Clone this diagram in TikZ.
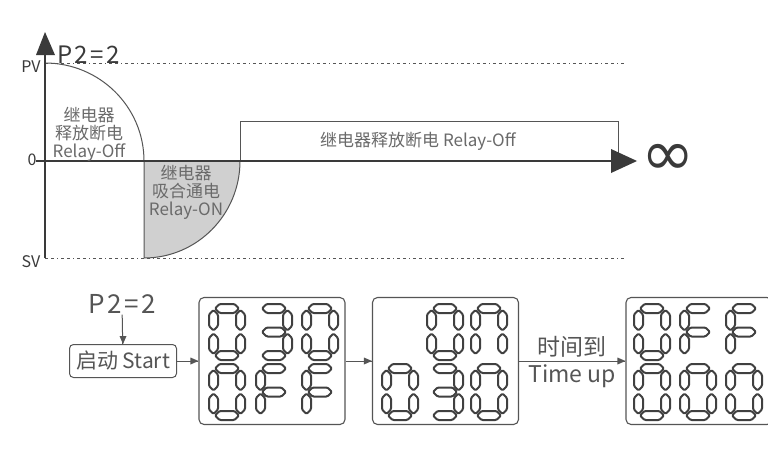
\documentclass[tikz,border=0pt]{standalone}
\usepackage{fontspec}
\setmainfont{Noto Sans CJK SC}
\newfontfamily\widefont[LetterSpace=10]{Noto Sans CJK SC}
\newfontfamily\symbfont{DejaVu Sans}
\definecolor{axisgray}{HTML}{3A3A3A}
\definecolor{textgray}{HTML}{6A6A6A}
\definecolor{linegray}{HTML}{555555}
\definecolor{fillgray}{HTML}{D0D0D0}
\definecolor{lcdgray}{HTML}{404040}
% one segment of a seven segment digit, horizontal and vertical
\newcommand{\hseg}[2]{\draw[lcdseg] (#1,#2) -- ++(4.5,-4.5) -- ++(15,0) -- ++(4.5,4.5) -- ++(-4.5,4.5) -- ++(-15,0) -- cycle;}
\newcommand{\vseg}[2]{\draw[lcdseg] (#1,#2) -- ++(4.5,4.5) -- ++(0,11.5) -- ++(-4.5,4.5) -- ++(-4.5,-4.5) -- ++(0,-11.5) -- cycle;}
\newcommand{\dsega}{\hseg{6}{4.5}}
\newcommand{\dsegb}{\vseg{31.5}{6}}
\newcommand{\dsegc}{\vseg{31.5}{29.5}}
\newcommand{\dsegd}{\hseg{6}{51.5}}
\newcommand{\dsege}{\vseg{4.5}{29.5}}
\newcommand{\dsegf}{\vseg{4.5}{6}}
\newcommand{\dsegg}{\hseg{6}{28}}
\newcommand{\lcddigit}[3]{\begin{scope}[shift={(#1,#2)}]\foreach \s in {#3}{\csname dseg\s\endcsname}\end{scope}}
\begin{document}
\begin{tikzpicture}[x=1pt,y=-1pt]
        \tikzset{lcdseg/.style={draw=lcdgray,line width=2pt,fill=white,line join=round,rounded corners=1.2pt},
          dispbox/.style={draw=linegray,line width=1.1pt,rounded corners=5pt,minimum width=146pt,minimum height=127pt,inner sep=0pt},
          graphtext/.style={text=textgray,font=\fontsize{17}{18}\selectfont,align=center,inner sep=0pt},
          axislabel/.style={text=axisgray,font=\fontsize{16}{16}\selectfont,inner sep=0pt},
          flowtext/.style={text=linegray,font=\fontsize{21}{22}\selectfont},
          guide/.style={draw=linegray,line width=0.8pt,dash pattern=on 3pt off 3pt on 3pt off 3pt on 1pt off 3pt}}
        \useasboundingbox [fill=white] (0,0) rectangle (768,466);
        % graph
        \coordinate (ytop) at (45,50);
        \coordinate (ybot) at (45,258);
        \coordinate (xleft) at (36,161);
        \coordinate (xend) at (612,161);
        \draw [guide] (45,63) -- (627,63);
        \draw [guide] (45,258) -- (627,258);
        \draw [fill=fillgray,draw=linegray,line width=1pt] (144,161) -- (144,258) arc[start angle=90,end angle=0,x radius=96,y radius=97] -- cycle;
        \draw [linegray,line width=1pt] (45,63) arc[start angle=-90,end angle=0,x radius=99,y radius=98];
        \draw [linegray,line width=1pt] (240,161) -- (240,121) -- (618,121) -- (618,161);
        \draw [axisgray,line width=2.2pt] (ybot) -- (ytop);
        \fill [axisgray] (45,32) -- (36,55) -- (55,55) -- cycle;
        \draw [axisgray,line width=2.2pt] (xleft) -- (xend);
        \fill [axisgray] (637,161) -- (611,149) -- (611,173) -- cycle;
        \node [axislabel] (pv) at (31,67) {PV};
        \node [axislabel] (zero) at (32,160) {0};
        \node [axislabel] (sv) at (31,262) {SV};
        \node [text=axisgray,font=\widefont\fontsize{24}{24}\selectfont,anchor=west,inner sep=0pt] (ptop) at (57,55) {P2=2};
        \node [text=axisgray,font=\symbfont\fontsize{64}{64}\selectfont,inner sep=0pt] (inf) at (668,160) {∞};
        \node [graphtext] (offleft) at (89,134) {继电器\\释放断电\\Relay-Off};
        \node [graphtext] (onlabel) at (186,192) {继电器\\吸合通电\\Relay-ON};
        \node [graphtext] (offright) at (418,141) {继电器释放断电 Relay-Off};
        % flow
        \node [flowtext,font=\widefont\fontsize{26}{26}\selectfont,inner sep=1pt] (ptwo) at (122,304) {P2=2};
        \node [flowtext,draw=linegray,line width=1pt,rounded corners=4pt,minimum width=107pt,minimum height=33pt,inner sep=0pt] (start) at (123,361) {启动 Start};
        \node [dispbox] (disp1) at (272,361) {};
        \node [dispbox] (disp2) at (445.5,361) {};
        \node [dispbox] (disp3) at (699,361) {};
        \draw [linegray,line width=1pt] (ptwo) -- (start);
        \fill [linegray] (start.north) -- ++(-3.5,-8) -- ++(7,0) -- cycle;
        \draw [linegray,line width=1pt] (start) -- (disp1);
        \fill [linegray] (disp1.west) -- ++(-8,-3.5) -- ++(0,7) -- cycle;
        \draw [linegray,line width=1pt] (disp1) -- (disp2);
        \fill [linegray] (disp2.west) -- ++(-8,-3.5) -- ++(0,7) -- cycle;
        \draw [linegray,line width=1pt] (disp2) -- node [flowtext,font=\fontsize{23}{23}\selectfont,above] {时间到} node [flowtext,font=\fontsize{23}{23}\selectfont,below] {Time up} (disp3);
        \fill [linegray] (disp3.west) -- ++(-8,-3.5) -- ++(0,7) -- cycle;
        % digits
        \lcddigit{209}{304}{a,b,c,d,e,f}
        \lcddigit{256}{304}{a,b,c,d,g}
        \lcddigit{302}{304}{a,b,c,d,e,f}
        \lcddigit{209}{364}{a,b,c,d,e,f}
        \lcddigit{256}{364}{a,e,f,g}
        \lcddigit{302}{364}{a,e,f,g}
        \lcddigit{427}{304}{a,b,c,d,e,f}
        \lcddigit{471}{304}{a,b,c,e,f}
        \lcddigit{382}{364}{a,b,c,d,e,f}
        \lcddigit{427}{364}{a,b,c,d,g}
        \lcddigit{471}{364}{a,b,c,d,e,f}
        \lcddigit{634}{304}{a,b,c,d,e,f}
        \lcddigit{680}{304}{a,e,f,g}
        \lcddigit{726}{304}{a,e,f,g}
        \lcddigit{634}{364}{a,b,c,d,e,f}
        \lcddigit{680}{364}{a,b,c,d,e,f}
        \lcddigit{726}{364}{a,b,c,d,e,f}
        \end{tikzpicture}
\end{document}
